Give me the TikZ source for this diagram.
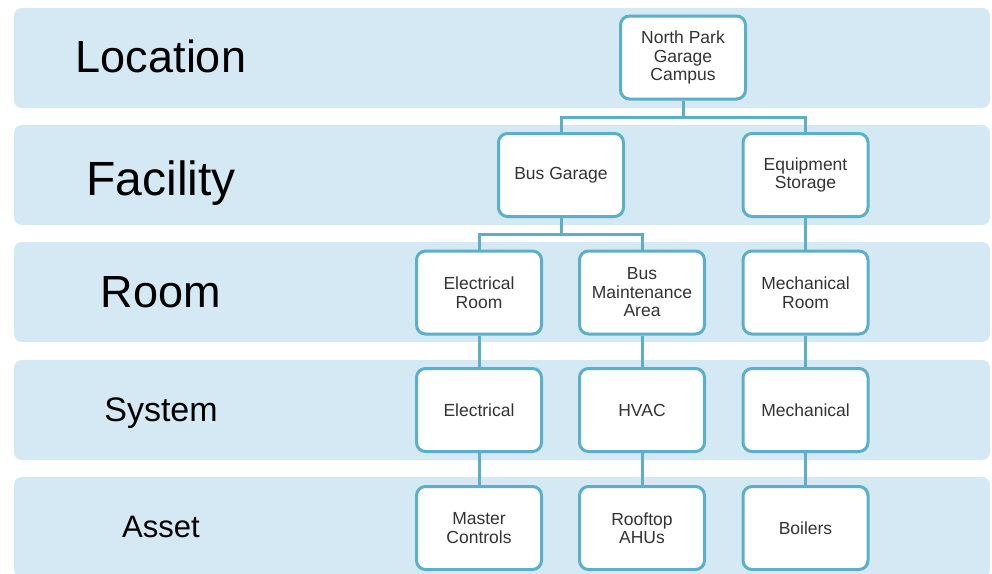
\documentclass[tikz,border=0pt]{standalone}
\usepackage{fontspec}
\setmainfont{Liberation Sans}
\usepackage{xcolor}
\usetikzlibrary{calc}

\definecolor{bandblue}{HTML}{D4E9F4}
\definecolor{boxline}{HTML}{5BAFC7}

\begin{document}
\begin{tikzpicture}[x=1pt, y=-1pt,
    unit/.style={draw=boxline, line width=3pt, fill=white, rounded corners=9pt,
        minimum width=125pt, minimum height=83pt, inner sep=0pt, align=center,
        text=black!80, font=\fontsize{17.5}{18.5}\selectfont},
    link/.style={draw=boxline, line width=3pt}]
    \useasboundingbox (0,0) rectangle (992,573);
    \clip (0,0) rectangle (992,573);

    % Level bands
    \foreach \row/\ytop/\ybase/\fs in {Location/8/72/45, Facility/125/195/48, Room/242/307/45, System/360/421/34, Asset/477/537/31} {
        \fill [bandblue, rounded corners=8pt] (14,\ytop) rectangle (990,\ytop+100);
        \node [anchor=base, font=\fontsize{\fs}{\fs}\selectfont] (lbl\row) at (161,\ybase) {\row};
    }

    % Location and facilities
    \node [unit] (campus) at (683,57.5) {North Park\\Garage\\Campus};
    \node [unit] (busgarage) at (561,175) {Bus Garage};
    \node [unit] (equipment) at (805.5,175) {Equipment\\Storage};

    % Rooms
    \node [unit] (elecroom) at (479,292.5) {Electrical\\Room};
    \node [unit] (busarea) at (642,292.5) {Bus\\Maintenance\\Area};
    \node [unit] (mechroom) at (805.5,292.5) {Mechanical\\Room};

    % Systems
    \node [unit] (elec) at (479,410) {Electrical};
    \node [unit] (hvac) at (642,410) {HVAC};
    \node [unit] (mech) at (805.5,410) {Mechanical};

    % Assets
    \node [unit] (controls) at (479,528) {Master\\Controls};
    \node [unit] (ahus) at (642,528) {Rooftop\\AHUs};
    \node [unit] (boilers) at (805.5,528) {Boilers};

    % Connectors
    \coordinate (campusfork) at (683,117.5);
    \coordinate (garagefork) at (561,234.5);
    \draw [link] (campus) -- (campusfork) -| (busgarage);
    \draw [link] (campusfork) -| (equipment);
    \draw [link] (busgarage) -- (garagefork) -| (elecroom);
    \draw [link] (garagefork) -| (busarea);
    \foreach \a/\b in {equipment/mechroom, elecroom/elec, busarea/hvac, mechroom/mech, elec/controls, hvac/ahus, mech/boilers}
        \draw [link] (\a) -- (\b);
\end{tikzpicture}
\end{document}
